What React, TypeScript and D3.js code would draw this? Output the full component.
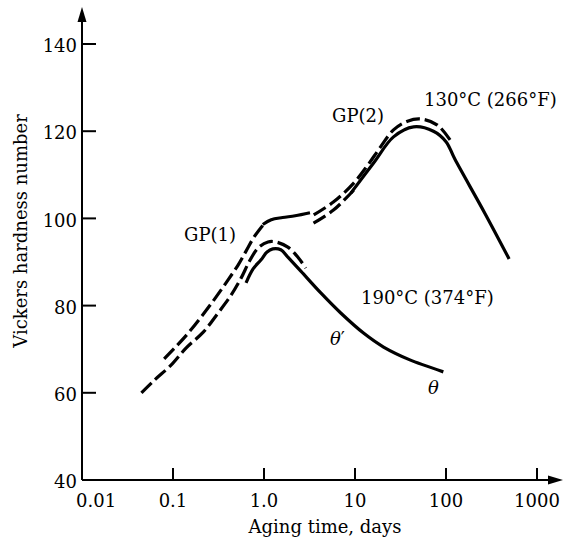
import React from "react";
import * as d3 from "d3";

// ---- data ----
const xTicks = [0.01, 0.1, 1, 10, 100, 1000];
const xTickLabels = ["0.01", "0.1", "1.0", "10", "100", "1000"];
const yTicks = [40, 60, 80, 100, 120, 140];
const yTickLabels = ["40", "60", "80", "100", "120", "140"];

// 130°C curve pieces
const gp1X = [0.08, 0.109, 0.147, 0.22, 0.298, 0.403, 0.519, 0.635, 0.776, 0.97];
const gp1Y = [67.8, 70.7, 73.7, 78.3, 82.0, 85.9, 89.3, 92.5, 95.7, 98.4];
const plateauX = [0.97, 1.2, 1.6, 2.2, 3.2];
const plateauY = [98.6, 99.7, 100.2, 100.6, 101.3];
const lowerDashX = [3.5, 5.8, 9.7];
const lowerDashY = [98.9, 101.9, 106.5];
const solid130X = [9.0, 16.0, 26.5, 44, 72.8, 100, 125, 267, 494];
const solid130Y = [105.8, 112.7, 118.7, 121.0, 120.0, 117.6, 113.6, 101.2, 90.7];
const gp2X = [3.52, 5.83, 9.68, 13.8, 19.1, 26.5, 37.8, 52.5, 80.5, 117];
const gp2Y = [100.8, 103.8, 108.1, 112.2, 116.4, 120.3, 122.3, 122.8, 121.4, 117.3];

// 190°C curve pieces
const dash190X = [0.045, 0.0624, 0.0957, 0.1397, 0.215, 0.313, 0.435, 0.56, 0.685, 0.859, 1.106, 1.353, 1.83, 2.36, 2.88];
const dash190Y = [60.0, 62.9, 66.4, 70.3, 73.9, 78.3, 82.4, 86.3, 90.0, 93.2, 94.6, 94.6, 93.4, 91.1, 88.6];
const solid190X = [0.635, 0.759, 0.928, 1.08, 1.25, 1.53, 1.83, 2.54, 4.21, 6.97, 12.4, 20.6, 40.7, 93.5];
const solid190Y = [85.2, 88.4, 90.5, 92.3, 93.0, 92.8, 91.1, 87.9, 82.9, 78.3, 73.7, 70.5, 67.5, 64.8];

const W = 565;
const H = 542;
const FONT = "'DejaVu Serif', 'Liberation Serif', serif";
const INK = "#000";
const FS = 18;

export default function App() {
  const x = d3.scaleLog().domain([0.01, 1000]).range([82, 537]);
  const y = d3.scaleLinear().domain([40, 140]).range([480, 44]);
  const line = d3
    .line<[number, number]>()
    .x((d) => x(d[0]))
    .y((d) => y(d[1]))
    .curve(d3.curveCatmullRom.alpha(0.5));
  const pts = (xs: number[], ys: number[]) => xs.map((v, i) => [v, ys[i]] as [number, number]);

  const x0 = x(0.01);
  const y0 = y(40);

  const dash = "14,5";
  const curves = [
    { d: line(pts(gp1X, gp1Y)), dashed: true },
    { d: line(pts(plateauX, plateauY)), dashed: false },
    { d: line(pts(lowerDashX, lowerDashY)), dashed: true },
    { d: line(pts(solid130X, solid130Y)), dashed: false },
    { d: line(pts(gp2X, gp2Y)), dashed: true },
    { d: line(pts(dash190X, dash190Y)), dashed: true },
    { d: line(pts(solid190X, solid190Y)), dashed: false },
  ];

  return (
    <svg
      width={W}
      height={H}
      style={{ position: "absolute", left: 0, top: 0, background: "#fff" }}
      fontFamily={FONT}
    >
      <rect width={W} height={H} fill="#fff" />
      {/* axes */}
      <line x1={x0} y1={y0} x2={x0} y2={18} stroke={INK} strokeWidth={2} />
      <path d={`M${x0},7 L${x0 - 4.5},22 L${x0 + 4.5},22 Z`} fill={INK} />
      <line x1={x0} y1={y0} x2={552} y2={y0} stroke={INK} strokeWidth={2} />
      <path d={`M563,${y0} L548,${y0 - 4.5} L548,${y0 + 4.5} Z`} fill={INK} />

      {/* y ticks */}
      {yTicks.map((t, i) => (
        <g key={"y" + t}>
          {t !== 40 && (
            <line x1={x0} x2={x0 + 14} y1={y(t)} y2={y(t)} stroke={INK} strokeWidth={2} />
          )}
          <text x={77} y={y(t)} dy="0.45em" textAnchor="end" fontSize={FS} fill={INK}>
            {yTickLabels[i]}
          </text>
        </g>
      ))}

      {/* x ticks */}
      {xTicks.map((t, i) => (
        <g key={"x" + t}>
          {t !== 0.01 && (
            <line x1={x(t)} x2={x(t)} y1={y0} y2={y0 - 12} stroke={INK} strokeWidth={2} />
          )}
          <text
            x={t === 0.01 ? x(t) - 6 : x(t)}
            y={507}
            textAnchor={t === 0.01 ? "start" : "middle"}
            fontSize={FS}
            fill={INK}
          >
            {xTickLabels[i]}
          </text>
        </g>
      ))}

      {/* axis titles */}
      <text x={325} y={533} textAnchor="middle" fontSize={FS} fill={INK}>
        Aging time, days
      </text>
      <text
        transform="translate(27,231) rotate(-90)"
        textAnchor="middle"
        fontSize={FS}
        fill={INK}
      >
        Vickers hardness number
      </text>

      {/* curves */}
      {curves.map((c, i) => (
        <path
          key={i}
          d={c.d || ""}
          fill="none"
          stroke={INK}
          strokeWidth={3.2}
          strokeDasharray={c.dashed ? dash : undefined}
          strokeLinecap="butt"
        />
      ))}

      {/* annotations */}
      <text x={184} y={241} fontSize={FS} fill={INK}>GP(1)</text>
      <text x={332} y={122} fontSize={FS} fill={INK}>GP(2)</text>
      <text x={424} y={106} fontSize={FS} fill={INK}>130°C (266°F)</text>
      <text x={361} y={304} fontSize={FS} fill={INK}>190°C (374°F)</text>
      <text x={330} y={345} fontSize={FS} fill={INK}>
        <tspan fontStyle="italic">θ</tspan>
        <tspan>′</tspan>
      </text>
      <text x={428} y={394} fontSize={FS} fontStyle="italic" fill={INK}>θ</text>
    </svg>
  );
}
